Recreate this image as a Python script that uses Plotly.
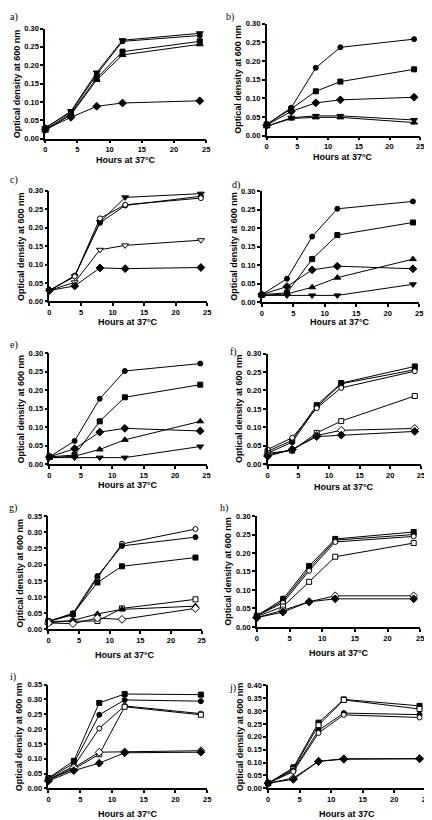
import plotly.graph_objects as go

W, H = 432, 820
hours = [0, 4, 8, 12, 24]
x_ticks = [0, 5, 10, 15, 20, 25]

# ---- panel a ----
a_tri_down = [0.028, 0.075, 0.180, 0.268, 0.287]
a_circle = [0.030, 0.072, 0.175, 0.265, 0.281]
a_square = [0.025, 0.068, 0.165, 0.237, 0.265]
a_tri_up = [0.022, 0.065, 0.160, 0.228, 0.257]
a_diamond = [0.025, 0.058, 0.088, 0.097, 0.103]
# ---- panel b ----
b_circle = [0.030, 0.075, 0.182, 0.237, 0.259]
b_square = [0.030, 0.072, 0.119, 0.145, 0.178]
b_diamond = [0.028, 0.065, 0.088, 0.096, 0.103]
b_tri_down = [0.025, 0.048, 0.053, 0.053, 0.042]
b_tri_up = [0.025, 0.046, 0.049, 0.049, 0.035]
# ---- panel c ----
c_tri_down = [0.030, 0.068, 0.215, 0.282, 0.292]
c_circle = [0.030, 0.070, 0.213, 0.260, 0.285]
c_circle_open = [0.030, 0.068, 0.225, 0.262, 0.280]
c_tri_down_open = [0.030, 0.052, 0.140, 0.152, 0.166]
c_diamond = [0.030, 0.042, 0.091, 0.089, 0.092]
# ---- panel d ----
d_circle = [0.020, 0.063, 0.177, 0.252, 0.272]
d_square = [0.020, 0.025, 0.116, 0.181, 0.215]
d_diamond = [0.020, 0.042, 0.087, 0.097, 0.090]
d_tri_up = [0.018, 0.022, 0.040, 0.066, 0.116]
d_tri_down = [0.018, 0.018, 0.018, 0.018, 0.048]
# ---- panel e ----
e_circle = [0.020, 0.063, 0.177, 0.252, 0.272]
e_square = [0.020, 0.025, 0.116, 0.181, 0.215]
e_diamond = [0.020, 0.042, 0.087, 0.097, 0.090]
e_tri_up = [0.018, 0.022, 0.040, 0.066, 0.116]
e_tri_down = [0.018, 0.018, 0.018, 0.018, 0.048]
# ---- panel f ----
f_square = [0.035, 0.065, 0.160, 0.220, 0.265]
f_circle = [0.030, 0.060, 0.155, 0.218, 0.256]
f_circle_open = [0.040, 0.072, 0.152, 0.207, 0.252]
f_square_open = [0.030, 0.037, 0.085, 0.117, 0.185]
f_diamond_open = [0.025, 0.040, 0.078, 0.092, 0.097]
f_diamond = [0.022, 0.040, 0.075, 0.079, 0.089]
# ---- panel g ----
g_circle_open = [0.025, 0.045, 0.160, 0.264, 0.310]
g_circle_open_err = [0.0, 0.0, 0.0, 0.007, 0.0]
g_circle = [0.025, 0.050, 0.165, 0.258, 0.285]
g_square = [0.025, 0.048, 0.145, 0.195, 0.222]
g_square_open = [0.025, 0.025, 0.026, 0.065, 0.093]
g_tri_up = [0.020, 0.028, 0.048, 0.062, 0.072]
g_diamond_open = [0.020, 0.018, 0.035, 0.031, 0.065]
# ---- panel h ----
h_square = [0.030, 0.075, 0.165, 0.238, 0.257]
h_square_err = [0.0, 0.008, 0.0, 0.007, 0.0]
h_circle = [0.030, 0.070, 0.158, 0.235, 0.250]
h_circle_open = [0.030, 0.065, 0.152, 0.230, 0.245]
h_square_open = [0.028, 0.055, 0.122, 0.190, 0.227]
h_diamond_open = [0.025, 0.045, 0.068, 0.084, 0.084]
h_diamond = [0.025, 0.040, 0.068, 0.076, 0.076]
# ---- panel i ----
i_square = [0.035, 0.093, 0.288, 0.318, 0.316]
i_circle = [0.033, 0.085, 0.248, 0.298, 0.294]
i_circle_open = [0.030, 0.075, 0.202, 0.278, 0.252]
i_square_open = [0.030, 0.065, 0.115, 0.275, 0.248]
i_diamond_open = [0.028, 0.070, 0.122, 0.123, 0.127]
i_diamond = [0.025, 0.060, 0.085, 0.120, 0.122]
# ---- panel j ----
j_square = [0.020, 0.080, 0.255, 0.345, 0.320]
j_square_err = [0.0, 0.012, 0.0, 0.0, 0.0]
j_square_open = [0.020, 0.075, 0.245, 0.343, 0.308]
j_circle = [0.020, 0.070, 0.225, 0.292, 0.286]
j_circle_open = [0.020, 0.065, 0.215, 0.285, 0.275]
j_diamond_open = [0.020, 0.040, 0.105, 0.115, 0.115]
j_diamond = [0.020, 0.035, 0.105, 0.113, 0.115]

y_title = "Optical density at 600 nm"
x_title = "Hours at 37°C"
x_title_j = "Hours at 37C"

# panel: letter, box (x0, x1, ytop, ybot px), ymax, xtitle y px, letter pos, xtitle, series
panels = [
    ("a)", (35.7, 199, 16.7, 128), 0.30, 150, (4, 5), x_title,
     [(a_tri_down, "triangle-down", None), (a_circle, "circle", None), (a_square, "square", None),
      (a_tri_up, "triangle-up", None), (a_diamond, "diamond", None)]),
    ("b)", (260.3, 416, 12, 125), 0.30, 147, (223, 5), x_title,
     [(b_circle, "circle", None), (b_square, "square", None), (b_diamond, "diamond", None),
      (b_tri_down, "triangle-down", None), (b_tri_up, "triangle-up", None)]),
    ("c)", (40, 200, 180.7, 292.7), 0.30, 313, (4, 170), x_title,
     [(c_tri_down, "triangle-down", None), (c_circle, "circle", None),
      (c_circle_open, "circle-open", None),
      (c_tri_down_open, "triangle-down-open", None), (c_diamond, "diamond", None)]),
    ("d)", (255.3, 415, 181, 293.3), 0.30, 313, (229, 175), x_title,
     [(d_circle, "circle", None), (d_square, "square", None), (d_diamond, "diamond", None),
      (d_tri_up, "triangle-up", None), (d_tri_down, "triangle-down", None)]),
    ("e)", (40, 199.3, 345, 457.3), 0.30, 478, (4, 337), x_title,
     [(e_circle, "circle", None), (e_square, "square", None), (e_diamond, "diamond", None),
      (e_tri_up, "triangle-up", None), (e_tri_down, "triangle-down", None)]),
    ("f)", (261.3, 416.7, 345.3, 457.3), 0.30, 480, (227, 344), x_title,
     [(f_square, "square", None), (f_circle, "circle", None), (f_circle_open, "circle-open", None),
      (f_square_open, "square-open", None), (f_diamond_open, "diamond-open", None),
      (f_diamond, "diamond", None)]),
    ("g)", (39, 194.3, 509.7, 624.3), 0.35, 650, (3, 502), x_title,
     [(g_circle_open, "circle-open", g_circle_open_err), (g_circle, "circle", None),
      (g_square, "square", None), (g_square_open, "square-open", None),
      (g_tri_up, "triangle-up", None), (g_diamond_open, "diamond-open", None)]),
    ("h)", (250.3, 416, 509.7, 621.7), 0.30, 648, (217, 502), x_title,
     [(h_square, "square", h_square_err), (h_circle, "circle", None),
      (h_circle_open, "circle-open", None), (h_square_open, "square-open", None),
      (h_diamond_open, "diamond-open", None), (h_diamond, "diamond", None)]),
    ("i)", (39, 200, 680, 785), 0.35, None, (3, 672), x_title,
     [(i_square, "square", None), (i_circle, "circle", None), (i_circle_open, "circle-open", None),
      (i_square_open, "square-open", None), (i_diamond_open, "diamond-open", None),
      (i_diamond, "diamond", None)]),
    ("j)", (261.7, 421.7, 680.7, 785), 0.40, None, (226, 683), x_title_j,
     [(j_square, "square", j_square_err), (j_square_open, "square-open", None),
      (j_circle, "circle", None), (j_circle_open, "circle-open", None),
      (j_diamond_open, "diamond-open", None), (j_diamond, "diamond", None)]),
]

fig = go.Figure()
tick_font = dict(family="Liberation Sans, Arial", size=7.5, color="black", weight="bold")
title_font = dict(family="Liberation Sans, Arial", size=9, color="black", weight="bold")
annotations = []
sizes = {"circle": 5, "square": 5, "diamond": 6, "triangle-up": 6, "triangle-down": 6}

for k, (letter, (x0, x1, yt, yb), ymax, xt_y, (lx, ly), xt, series) in enumerate(panels):
    n = "" if k == 0 else str(k + 1)
    xa, ya = "x" + n, "y" + n
    for vals, sym, err in series:
        is_open = sym.endswith("-open")
        base = sym.replace("-open", "")
        tr = dict(
            x=hours, y=vals, xaxis=xa, yaxis=ya, mode="lines+markers",
            line=dict(color="black", width=1),
            marker=dict(symbol=base, size=sizes[base],
                        color="white" if is_open else "black",
                        line=dict(color="black", width=1)),
            cliponaxis=False, showlegend=False, hoverinfo="skip")
        if err is not None:
            tr["error_y"] = dict(type="data", array=err, color="black", thickness=1, width=2)
        fig.add_trace(go.Scatter(**tr))
    dom_x = [x0 / W, x1 / W]
    dom_y = [1 - yb / H, 1 - yt / H]
    axis_common = dict(showline=True, linecolor="black", linewidth=1.5, ticks="outside",
                       ticklen=3, tickwidth=1.5, tickcolor="black", showgrid=False,
                       zeroline=False, tickfont=tick_font, mirror=False)
    fig.layout["xaxis" + n] = dict(domain=dom_x, range=[0, 25], tickvals=x_ticks,
                                   anchor=ya, **axis_common)
    yvals = [round(v * 0.05, 2) for v in range(int(round(ymax / 0.05)) + 1)]
    fig.layout["yaxis" + n] = dict(domain=dom_y, range=[0, ymax], tickvals=yvals,
                                   tickformat=".2f", anchor=xa, **axis_common)
    annotations.append(dict(text=y_title, x=(x0 - 29) / W, y=1 - (yt + yb) / 2 / H,
                            xref="paper", yref="paper", textangle=-90, showarrow=False,
                            xanchor="center", yanchor="middle", font=title_font))
    if xt_y is None:
        annotations.append(dict(text=xt, x=(x0 + x1) / 2 / W, y=1 - 817 / H,
                                xref="paper", yref="paper", showarrow=False, borderpad=0,
                                xanchor="center", yanchor="bottom", font=title_font))
    else:
        annotations.append(dict(text=xt, x=(x0 + x1) / 2 / W, y=1 - xt_y / H,
                                xref="paper", yref="paper", showarrow=False,
                                xanchor="center", yanchor="middle", font=title_font))
    annotations.append(dict(text=letter, x=lx / W, y=1 - ly / H, xref="paper", yref="paper",
                            showarrow=False, xanchor="center", yanchor="middle",
                            font=dict(family="Liberation Serif, Times New Roman", size=10,
                                      color="black")))

fig.update_layout(width=W, height=H, margin=dict(l=0, r=0, t=0, b=0),
                  paper_bgcolor="white", plot_bgcolor="white",
                  annotations=annotations)
fig.write_html("out.html")
